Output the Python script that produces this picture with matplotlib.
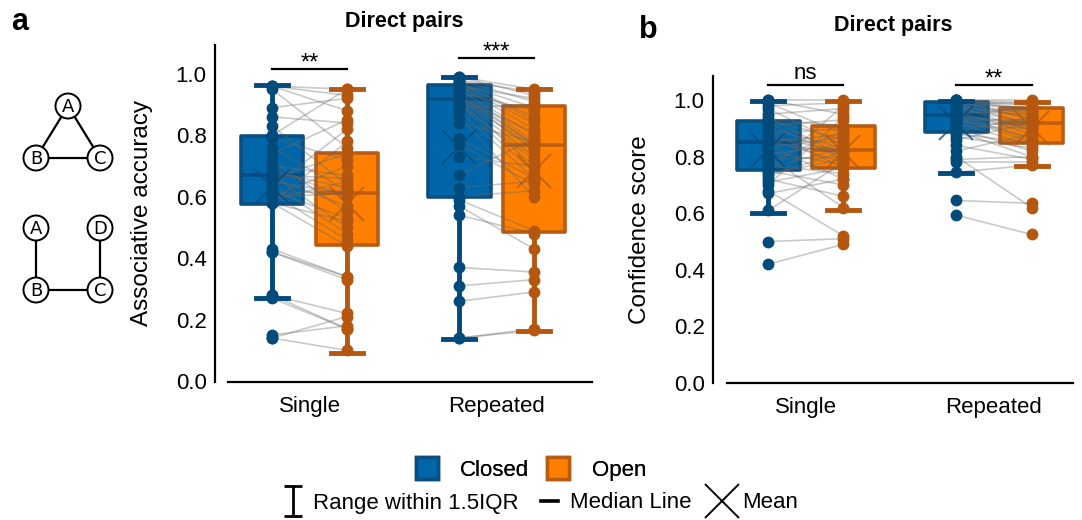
import matplotlib
matplotlib.use("Agg")
import matplotlib.pyplot as plt
from matplotlib.lines import Line2D
from matplotlib.patches import Patch, Circle
from matplotlib.path import Path
import numpy as np

plt.rcParams['font.family'] = ['Liberation Sans', 'DejaVu Sans']

conditions = ["Single", "Repeated"]
groups = ["Closed", "Open"]

# ---- per-participant scores (paired: same index = same participant) ----
acc_single_closed = [0.96, 0.96, 0.96, 0.95, 0.89, 0.86, 0.83, 0.80, 0.79, 0.76,
                     0.74, 0.72, 0.70, 0.69, 0.68, 0.67, 0.67, 0.66, 0.66, 0.65,
                     0.64, 0.63, 0.62, 0.61, 0.61, 0.60, 0.59, 0.58, 0.58, 0.58,
                     0.43, 0.42, 0.42, 0.28, 0.28, 0.27, 0.15, 0.14, 0.14, 0.60]
acc_single_open = [0.95, 0.93, 0.88, 0.76, 0.92, 0.84, 0.64, 0.95, 0.72, 0.62,
                   0.85, 0.55, 0.67, 0.60, 0.63, 0.50, 0.66, 0.74, 0.57, 0.61,
                   0.48, 0.82, 0.53, 0.62, 0.46, 0.70, 0.65, 0.52, 0.78, 0.44,
                   0.34, 0.33, 0.34, 0.22, 0.17, 0.17, 0.18, 0.10, 0.21, 0.61]
acc_repeated_closed = [0.99, 0.99, 0.98, 0.98, 0.97, 0.97, 0.96, 0.96, 0.95, 0.95,
                       0.94, 0.93, 0.93, 0.92, 0.92, 0.91, 0.90, 0.89, 0.88, 0.84,
                       0.79, 0.77, 0.73, 0.67, 0.63, 0.60, 0.59, 0.57, 0.54, 0.37,
                       0.31, 0.26, 0.14, 0.14, 0.96, 0.94, 0.97, 0.92, 0.90, 0.86]
acc_repeated_open = [0.95, 0.93, 0.94, 0.91, 0.89, 0.86, 0.84, 0.82, 0.80, 0.78,
                     0.77, 0.77, 0.75, 0.76, 0.73, 0.70, 0.68, 0.90, 0.66, 0.78,
                     0.66, 0.64, 0.70, 0.79, 0.65, 0.62, 0.49, 0.43, 0.48, 0.355,
                     0.33, 0.29, 0.17, 0.165, 0.92, 0.88, 0.85, 0.81, 0.72, 0.60]

conf_single_closed = [1.00, 1.00, 0.99, 0.98, 0.97, 0.95, 0.94, 0.93, 0.93, 0.92,
                      0.91, 0.90, 0.89, 0.88, 0.87, 0.86, 0.86, 0.85, 0.85, 0.84,
                      0.83, 0.82, 0.81, 0.80, 0.79, 0.78, 0.77, 0.76, 0.75, 0.75,
                      0.74, 0.73, 0.72, 0.71, 0.70, 0.68, 0.67, 0.61, 0.50, 0.42]
conf_single_open = [0.95, 1.00, 0.88, 0.99, 0.84, 0.97, 0.80, 0.91, 0.86, 0.79,
                    0.93, 0.83, 0.76, 0.90, 0.82, 0.85, 0.78, 0.88, 0.81, 0.72,
                    0.87, 0.77, 0.84, 0.62, 0.80, 0.89, 0.74, 0.83, 0.98, 0.70,
                    0.79, 0.82, 0.66, 0.76, 0.94, 0.52, 0.72, 0.78, 0.51, 0.49]
conf_repeated_closed = [1.00, 1.00, 1.00, 1.00, 1.00, 1.00, 0.99, 0.99, 0.99, 0.99,
                        0.98, 0.98, 0.97, 0.97, 0.96, 0.96, 0.95, 0.95, 0.95, 0.94,
                        0.94, 0.93, 0.93, 0.92, 0.92, 0.91, 0.90, 0.89, 0.89, 0.88,
                        0.87, 0.86, 0.84, 0.82, 0.80, 0.79, 0.78, 0.745, 0.645, 0.593]
conf_repeated_open = [0.99, 0.97, 1.00, 0.96, 0.98, 0.93, 0.99, 0.95, 0.91, 0.97,
                      0.94, 0.89, 0.96, 0.92, 0.88, 0.95, 0.90, 0.86, 0.97, 0.92,
                      0.85, 0.93, 0.87, 0.91, 0.84, 0.90, 0.82, 0.94, 0.80, 0.85,
                      0.83, 0.92, 0.79, 0.88, 0.62, 0.80, 0.78, 0.77, 0.635, 0.525]

# ---- box summaries; order: Single-Closed, Single-Open, Repeated-Closed, Repeated-Open ----
acc_whislo = [0.272, 0.092, 0.136, 0.163]
acc_q1 = [0.576, 0.443, 0.598, 0.484]
acc_med = [0.671, 0.611, 0.918, 0.769]
acc_q3 = [0.799, 0.744, 0.964, 0.896]
acc_whishi = [0.964, 0.950, 0.991, 0.950]
acc_mean = [0.633, 0.578, 0.761, 0.685]

conf_whislo = [0.602, 0.611, 0.743, 0.767]
conf_q1 = [0.753, 0.761, 0.886, 0.849]
conf_med = [0.853, 0.823, 0.947, 0.918]
conf_q3 = [0.926, 0.908, 0.994, 0.971]
conf_whishi = [0.997, 0.997, 0.997, 0.994]
conf_mean = [0.822, 0.818, 0.918, 0.900]

acc_sig = ["**", "***"]
conf_sig = ["ns", "**"]

# ---- styling ----
FACE = ["#0066a9", "#ff8000"]
EDGE = ["#0a4f80", "#b95c12"]
DARK = ["#004a7c", "#b5570f"]
OFF = 0.2
BOX_W = 0.335
CAP_W = 0.17


def draw_panel(ax, data, whislo, q1, med, q3, whishi, mean, sig, sig_y):
    for ci in range(len(conditions)):
        for gi in range(len(groups)):
            k = ci * 2 + gi
            pos = ci + (-OFF if gi == 0 else OFF)
            st = dict(whislo=whislo[k], q1=q1[k], med=med[k], q3=q3[k],
                      whishi=whishi[k], mean=mean[k], fliers=[])
            bp = ax.bxp([st], positions=[pos], widths=BOX_W, capwidths=CAP_W,
                        patch_artist=True, showmeans=True, showfliers=False,
                        manage_ticks=False,
                        boxprops=dict(facecolor=FACE[gi], edgecolor=EDGE[gi],
                                      linewidth=2.6, joinstyle='round'),
                        whiskerprops=dict(color=DARK[gi], linewidth=3.5),
                        capprops=dict(color=DARK[gi], linewidth=3.5),
                        medianprops=dict(color=DARK[gi], linewidth=2.6, alpha=0.85),
                        meanprops=dict(marker='x', markersize=24,
                                       markeredgecolor=DARK[gi],
                                       markeredgewidth=1.4, alpha=0.75))
            for b in bp['boxes']:
                b.set_zorder(2)
            for m in bp['medians']:
                m.set_zorder(2.5)
            for w in bp['whiskers'] + bp['caps']:
                w.set_zorder(4)
            for m in bp['means']:
                m.set_zorder(6)

    for ci in range(len(conditions)):
        closed, opened = data[ci]
        xc, xo = ci - OFF, ci + OFF
        for a, b in zip(closed, opened):
            ax.plot([xc, xo], [a, b], color='0.4', alpha=0.35, lw=1.2, zorder=3)
        ax.plot(np.full(len(closed), xc), closed, 'o', ms=8.5, color=DARK[0],
                zorder=5, mec='none')
        ax.plot(np.full(len(opened), xo), opened, 'o', ms=8.5, color=DARK[1],
                zorder=5, mec='none')
        # significance bracket
        ax.plot([xc, xo], [sig_y[ci], sig_y[ci]], color='black', lw=1.6, zorder=6,
                clip_on=False)
        if sig[ci] == "ns":
            ax.text(ci, sig_y[ci] + 0.004, sig[ci], ha='center', va='bottom',
                    fontsize=16, clip_on=False)
        else:
            ax.text(ci, sig_y[ci] - 0.018, sig[ci], ha='center', va='bottom',
                    fontsize=17, clip_on=False)

    ax.set_xticks(range(len(conditions)))
    ax.set_xticklabels(conditions)
    ax.set_yticks([0.0, 0.2, 0.4, 0.6, 0.8, 1.0])
    ax.set_yticklabels(["0.0", "0.2", "0.4", "0.6", "0.8", "1.0"])
    ax.tick_params(axis='both', length=0, labelsize=16)
    ax.tick_params(axis='x', pad=10)
    ax.tick_params(axis='y', pad=6)
    for s in ['top', 'right']:
        ax.spines[s].set_visible(False)
    for s in ['left', 'bottom']:
        ax.spines[s].set_linewidth(1.6)


fig = plt.figure(figsize=(10.82, 5.2), dpi=100)
W, H = 1082.0, 520.0

# panel a
ax_a = fig.add_axes([215 / W, 1 - 382 / H, (592 - 215) / W, (382 - 45) / H])
ax_a.set_xlim(-0.505, 1.51)
ax_a.set_ylim(-0.003, 1.094)
draw_panel(ax_a,
           [(acc_single_closed, acc_single_open),
            (acc_repeated_closed, acc_repeated_open)],
           acc_whislo, acc_q1, acc_med, acc_q3, acc_whishi, acc_mean,
           acc_sig, [1.016, 1.051])
ax_a.spines['bottom'].set_bounds(-0.436, 1.51)
ax_a.set_ylabel("Associative accuracy", fontsize=17.5)
ax_a.yaxis.set_label_coords(-0.164, 0.5)

# panel b
ax_b = fig.add_axes([713 / W, 1 - 383 / H, (1073 - 713) / W, (383 - 76) / H])
ax_b.set_xlim(-0.493, 1.42)
ax_b.set_ylim(0.0, 1.085)
draw_panel(ax_b,
           [(conf_single_closed, conf_single_open),
            (conf_repeated_closed, conf_repeated_open)],
           conf_whislo, conf_q1, conf_med, conf_q3, conf_whishi, conf_mean,
           conf_sig, [1.053, 1.053])
ax_b.spines['bottom'].set_bounds(-0.42, 1.42)
ax_b.set_ylabel("Confidence score", fontsize=17.5)
ax_b.yaxis.set_label_coords(-0.172, 0.5)

# titles and panel letters
fig.text(404 / W, 1 - 22 / H, "Direct pairs", ha='center', va='center',
         fontsize=15.5, fontweight='bold')
fig.text(893 / W, 1 - 25 / H, "Direct pairs", ha='center', va='center',
         fontsize=15.5, fontweight='bold')
fig.text(20 / W, 1 - 22 / H, "a", ha='center', va='center', fontsize=22,
         fontweight='bold')
fig.text(648 / W, 1 - 30 / H, "b", ha='center', va='center', fontsize=22,
         fontweight='bold')

# graph structure icons (closed loop and open chain)
ax_ic = fig.add_axes([0, 0, 1, 1], zorder=-1)
ax_ic.set_xlim(0, W)
ax_ic.set_ylim(H, 0)
ax_ic.axis('off')
nodes_closed = {"A": (68, 106), "B": (36, 158), "C": (100, 158)}
edges_closed = [("A", "B"), ("A", "C"), ("B", "C")]
nodes_open = {"A": (36, 228), "D": (100, 228), "B": (36, 290), "C": (100, 290)}
edges_open = [("A", "B"), ("B", "C"), ("C", "D")]
for nodes, edges in [(nodes_closed, edges_closed), (nodes_open, edges_open)]:
    for u, v in edges:
        ax_ic.plot([nodes[u][0], nodes[v][0]], [nodes[u][1], nodes[v][1]],
                   color='black', lw=1.6, zorder=1)
    for name, (x, y) in nodes.items():
        ax_ic.add_patch(Circle((x, y), 12.5, facecolor='white', edgecolor='black',
                               lw=1.4, zorder=2))
        ax_ic.text(x, y + 0.5, name, ha='center', va='center', fontsize=13,
                   family='DejaVu Sans', zorder=3)

# legends
leg1 = fig.legend(handles=[Patch(facecolor=FACE[0], edgecolor=EDGE[0], lw=2.5),
                           Patch(facecolor=FACE[1], edgecolor=EDGE[1], lw=2.5)],
                  labels=groups, ncol=2, loc='center',
                  bbox_to_anchor=(531 / W, 1 - 469 / H), frameon=False,
                  fontsize=16, handlelength=1.0, handleheight=1.15,
                  handletextpad=1.0, columnspacing=0.8)

range_marker = Path([(-0.3, 0.5), (0.3, 0.5), (0, 0.5), (0, -0.5), (-0.3, -0.5), (0.3, -0.5)],
                    [Path.MOVETO, Path.LINETO, Path.MOVETO, Path.LINETO, Path.MOVETO, Path.LINETO])
h_range = Line2D([], [], marker=range_marker, ls='none', color='black',
                 markersize=22, markeredgewidth=2.0, markerfacecolor='none')
h_median = Line2D([], [], color='black', lw=2.6)
h_mean = Line2D([], [], marker='x', ls='none', color='black', markersize=24,
                markeredgewidth=1.4)
leg2 = fig.legend(handles=[h_range, h_median, h_mean],
                  labels=["Range within 1.5IQR", "Median Line", "Mean"],
                  ncol=3, loc='center', bbox_to_anchor=(541 / W, 1 - 503 / H),
                  frameon=False, fontsize=16, handlelength=0.8,
                  handletextpad=0.5, columnspacing=1.0)
fig.add_artist(leg1)

fig.savefig("out.png", dpi=100)
